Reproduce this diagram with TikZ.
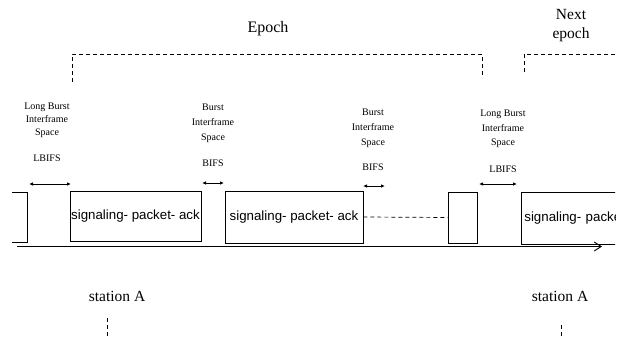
\documentclass[tikz,border=0pt]{standalone}
\usepackage{fontspec}
\setmainfont{Liberation Serif}
\setsansfont{Liberation Sans}
\usetikzlibrary{arrows.meta}
\begin{document}
\begin{tikzpicture}[x=1pt,y=-1pt,
  line width=0.75pt,
  lbl/.style={anchor=base,inner sep=0pt,font=\fontsize{10}{12}\selectfont},
  big/.style={anchor=base,inner sep=0pt,font=\fontsize{15.5}{18}\selectfont},
  frame/.style={draw,inner sep=0pt,font=\sffamily\fontsize{13.3}{15}\selectfont},
  gap/.style={{Latex[length=4pt,width=3.5pt]}-{Latex[length=4pt,width=3.5pt]},line width=0.9pt},
  epochline/.style={dash pattern=on 4pt off 3pt,line width=0.7pt},
  timeline/.style={-{Straight Barb[length=7pt,width=9pt,line width=0.9pt]},line width=0.9pt}
]
\useasboundingbox (0,0) rectangle (623,339);

% epoch brackets
\node[big,font=\fontsize{16}{18}\selectfont] (epoch) at (268,33) {Epoch};
\node[big] (next) at (571,20) {Next};
\node[big] (nextep) at (571,39) {epoch};
\coordinate (e1) at (72,82);
\coordinate (e1t) at (72,54);
\coordinate (e2t) at (482,54);
\coordinate (e2) at (482,75);
\coordinate (n1) at (524,72);
\coordinate (n1t) at (524,54);
\coordinate (n2t) at (615,54);
\draw[epochline] (e1) -- (e1t) -- (e2t) -- (e2);
\draw[epochline] (n1) -- (n1t) -- (n2t);

% interframe space labels
\node[lbl] (l1a) at (47,109.5) {Long Burst};
\node[lbl] (l1b) at (47,122.5) {Interframe};
\node[lbl] (l1c) at (47,135.5) {Space};
\node[lbl] (l1d) at (47,161.5) {LBIFS};

\node[lbl] (b1a) at (213,110.5) {Burst};
\node[lbl] (b1b) at (213,125.5) {Interframe};
\node[lbl] (b1c) at (213,140.5) {Space};
\node[lbl] (b1d) at (213,166.5) {BIFS};

\node[lbl] (b2a) at (373,115.5) {Burst};
\node[lbl] (b2b) at (373,130.5) {Interframe};
\node[lbl] (b2c) at (373,145.5) {Space};
\node[lbl] (b2d) at (373,170.5) {BIFS};

\node[lbl] (l2a) at (503,116.5) {Long Burst};
\node[lbl] (l2b) at (503,131.5) {Interframe};
\node[lbl] (l2c) at (503,145.5) {Space};
\node[lbl] (l2d) at (503,172.5) {LBIFS};

% frames on the time line
\begin{scope}
\clip (12,0) rectangle (615,339);
\node[frame,minimum width=131pt,minimum height=50pt] (f1) at (135.5,216) {signaling- packet- ack};
\node[frame,minimum width=138pt,minimum height=52pt] (f2) at (294,217) {signaling- packet- ack};
\node[frame,minimum width=29pt,minimum height=51pt] (f3) at (462.5,217.5) {};
\node[frame,minimum width=140pt,minimum height=52pt,anchor=west,text width=136pt,align=left] (f4) at (521,218) {\hspace*{1pt}signaling- packet- ack};
\node[frame,minimum width=60pt,minimum height=50pt] (f0) at (-3,217) {};
\end{scope}

\draw[epochline] (f2.east) -- (f3.west);

% gap arrows
\coordinate (g1a) at (29,184);  \coordinate (g1b) at (71,184);
\coordinate (g2a) at (202,183); \coordinate (g2b) at (224,183);
\coordinate (g3a) at (363,186); \coordinate (g3b) at (385,186);
\coordinate (g4a) at (479,184); \coordinate (g4b) at (517,184);
\draw[gap] (g1a) -- (g1b);
\draw[gap] (g2a) -- (g2b);
\draw[gap] (g3a) -- (g3b);
\draw[gap] (g4a) -- (g4b);

% time axis
\coordinate (t0) at (17,246.5);
\coordinate (t1) at (602,246.5);
\draw[timeline] (t0) -- (t1);

% stations
\node[big] (stA) at (117,301) {station A};
\node[big] (stB) at (560,301) {station A};
\coordinate (sA1) at (107,318); \coordinate (sA2) at (107,339);
\coordinate (sB1) at (561,325); \coordinate (sB2) at (561,339);
\draw[epochline] (sA1) -- (sA2);
\draw[epochline] (sB1) -- (sB2);
\end{tikzpicture}
\end{document}
